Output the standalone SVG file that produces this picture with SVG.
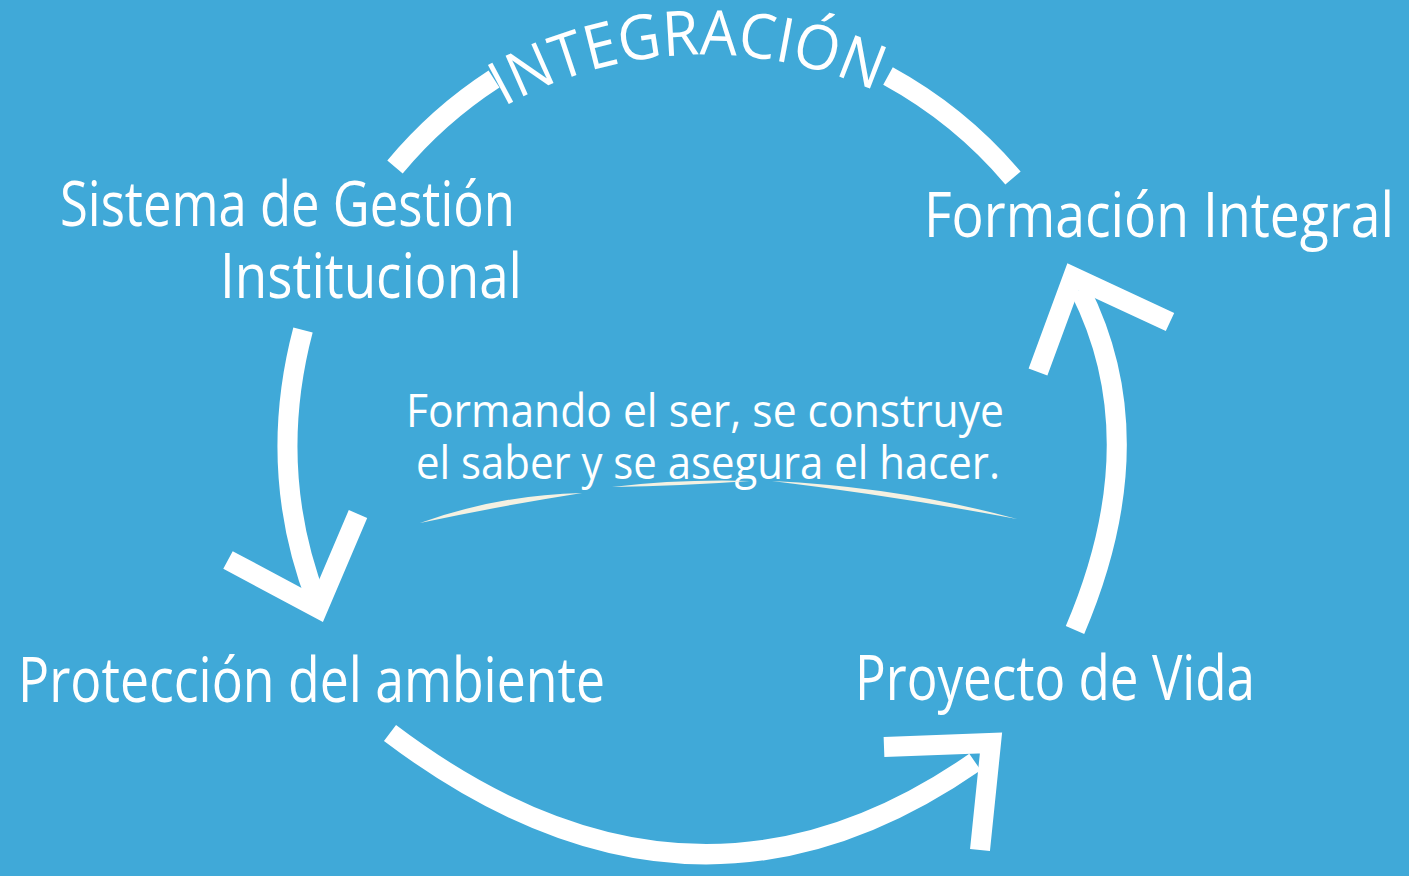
<svg xmlns="http://www.w3.org/2000/svg" width="1409" height="876" viewBox="0 0 1409 876">
<defs>
<style>
.bg{fill:#40A9D8}
.lbl{fill:#FFFFFF;font-family:"Open Sans","Noto Sans",sans-serif;font-size:62px}
.mid{fill:#FFFFFF;font-family:"Open Sans","Noto Sans",sans-serif;font-size:46px}
.ln{fill:none;stroke:#FFFFFF;stroke-width:20;stroke-linecap:butt;stroke-linejoin:miter}
.sw{fill:#F4F1E2}
</style>
<path id="arcText" d="M 485 118 A 413 413 0 0 1 915 112"/>
</defs>
<rect class="bg" x="0" y="0" width="1409" height="876"/>

<g id="connectors">
  <path class="ln" d="M 395 167 A 440 440 0 0 1 494 79"/>
  <path class="ln" d="M 888 76 A 440 440 0 0 1 1013 178"/>
  <path class="ln" d="M 303 330 Q 266 470 317 602"/>
  <path class="ln" d="M 228 560 L 318 608 L 358 514"/>
  <path class="ln" d="M 1075 630 Q 1156 440 1080 290"/>
  <path class="ln" d="M 1038 372 L 1073 277 L 1170 322"/>
  <path class="ln" d="M 390 733 Q 690 960 975 762"/>
  <path class="ln" d="M 884 747 L 991 743 L 980 850"/>
</g>

<g id="integracion">
  <text class="lbl" font-size="62"><textPath href="#arcText" startOffset="22" textLength="385" lengthAdjust="spacingAndGlyphs">INTEGRACIÓN</textPath></text>
</g>

<g id="node-sistema">
  <text class="lbl" x="60" y="226" textLength="455" lengthAdjust="spacingAndGlyphs">Sistema de Gestión</text>
  <text class="lbl" x="220" y="298" textLength="302" lengthAdjust="spacingAndGlyphs">Institucional</text>
</g>

<g id="node-formacion">
  <text class="lbl" x="924" y="237" textLength="470" lengthAdjust="spacingAndGlyphs">Formación Integral</text>
</g>

<g id="node-proteccion">
  <text class="lbl" x="18" y="702" textLength="587" lengthAdjust="spacingAndGlyphs">Protección del ambiente</text>
</g>

<g id="node-proyecto">
  <text class="lbl" x="855" y="700" textLength="400" lengthAdjust="spacingAndGlyphs">Proyecto de Vida</text>
</g>

<g id="center">
  <text class="mid" x="406" y="427" textLength="598" lengthAdjust="spacingAndGlyphs">Formando el ser,  se construye</text>
  <text class="mid" x="416" y="479" textLength="584" lengthAdjust="spacingAndGlyphs">el saber y se asegura el hacer.</text>
  <path class="sw" d="M 420 523 Q 497 495 582 493 Q 500 506 420 523 Z"/>
  <path class="sw" d="M 612 487 Q 680 479 750 481 Q 680 486 612 487 Z"/>
  <path class="sw" d="M 772 481 Q 900 487 1017 519 Q 895 496 772 481 Z"/>
</g>
</svg>
